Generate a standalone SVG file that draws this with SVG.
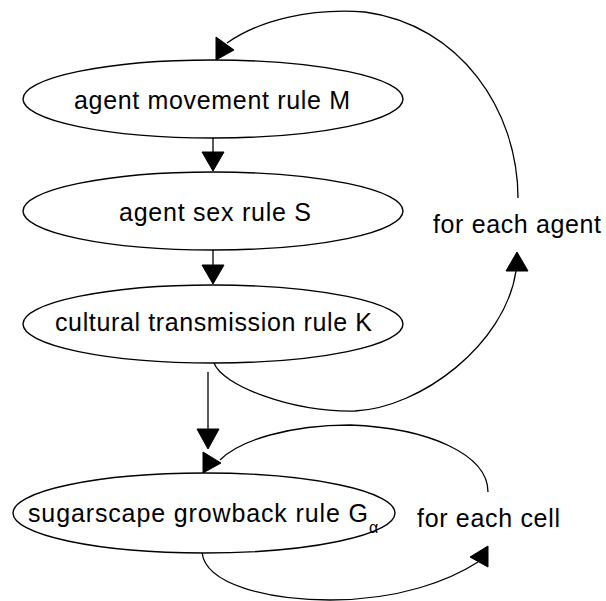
<svg xmlns="http://www.w3.org/2000/svg" width="606" height="601" viewBox="0 0 606 601">
<style>
.node{fill:#fff;stroke:#000;stroke-width:1.4}
.lbl{font-family:"Liberation Sans",Arial,sans-serif;font-size:25px;fill:#000}
.sub{font-family:"Liberation Sans",Arial,sans-serif;font-size:16px;fill:#000}
.edge{fill:none;stroke:#000;stroke-width:1.3}
.head{fill:#000;stroke:#000;stroke-width:1}
</style>
<rect width="606" height="601" fill="#fff"/>
<g id="connectors">
<line class="edge" x1="213" y1="138" x2="213" y2="153"/>
<polygon class="head" points="202,152 224,152 213,171"/>
<line class="edge" x1="213" y1="250" x2="213" y2="266"/>
<polygon class="head" points="202,265 224,265 213,284"/>
<line class="edge" x1="208" y1="372" x2="208" y2="430"/>
<polygon class="head" points="197,429 219,429 208,449"/>
<path class="edge" d="M214,363 C222,385 290,412 355,411 C420,408 505,345 516,271"/>
<polygon class="head" points="506,271 528,271 517,252"/>
<path class="edge" d="M518,198 C518,110 460,25 365,12 C310,8 260,20 227,43"/>
<polygon class="head" points="216,37 216,60 234,50"/>
<path class="edge" d="M488,492 C488,455 430,428 350,425 C290,425 240,440 220,460"/>
<polygon class="head" points="203,452 203,473 221,463"/>
<path class="edge" d="M202,552 C205,585 270,600 330,600 C400,600 450,580 478,562"/>
<polygon class="head" points="488,546 488,567 470,557"/>
</g>
<g id="node-M">
<ellipse class="node" cx="213" cy="99" rx="190" ry="39"/>
<text class="lbl" x="74" y="109" textLength="276" lengthAdjust="spacing">agent movement rule M</text>
</g>
<g id="node-S">
<ellipse class="node" cx="213" cy="211" rx="190" ry="39"/>
<text class="lbl" x="119" y="221" textLength="192" lengthAdjust="spacing">agent sex rule S</text>
</g>
<g id="node-K">
<ellipse class="node" cx="213" cy="324" rx="190" ry="39"/>
<text class="lbl" x="55" y="331" textLength="317" lengthAdjust="spacing">cultural transmission rule K</text>
</g>
<g id="node-G">
<ellipse class="node" cx="204" cy="513" rx="191" ry="40"/>
<text class="lbl" x="28" y="522" textLength="340" lengthAdjust="spacing">sugarscape growback rule G</text>
<text class="sub" x="369" y="533">α</text>
</g>
<g id="label-agent">
<text class="lbl" x="433" y="233" textLength="168" lengthAdjust="spacing">for each agent</text>
</g>
<g id="label-cell">
<text class="lbl" x="417" y="527" textLength="143" lengthAdjust="spacing">for each cell</text>
</g>
</svg>
